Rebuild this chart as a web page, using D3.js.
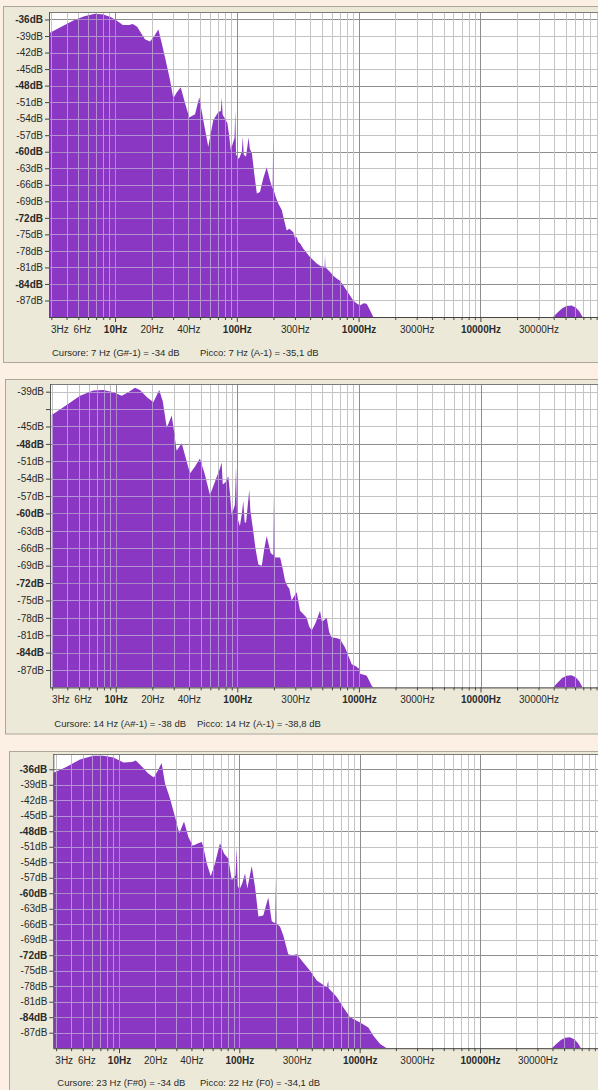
<!DOCTYPE html>
<html><head><meta charset="utf-8">
<script src="https://cdn.jsdelivr.net/npm/d3@7"></script>
<style>
body{margin:0;background:#fcefe4;overflow:hidden;}
svg{display:block;}
text{font-family:"Liberation Sans",Arial,sans-serif;}
</style>
</head><body>
<svg id="c" width="598" height="1090"></svg>
<script>
// ---- tick labels ----
const freqTickValues = [3, 6, 10, 20, 40, 100, 300, 1000, 3000, 10000, 30000];
const freqTickLabels = ["3Hz","6Hz","10Hz","20Hz","40Hz","100Hz","300Hz","1000Hz","3000Hz","10000Hz","30000Hz"];
const boldFreqs = [10, 100, 1000, 10000];
const dbLabels1 = [-36,-39,-42,-45,-48,-51,-54,-57,-60,-63,-66,-69,-72,-75,-78,-81,-84,-87];
const dbLabels2 = [-39,-45,-48,-51,-54,-57,-60,-63,-66,-69,-72,-75,-78,-81,-84,-87];
const dbLabels3 = [-36,-39,-42,-45,-48,-51,-54,-57,-60,-63,-66,-69,-72,-75,-78,-81,-84,-87];

// ---- spectrum 1 ----
const spec1Hz = [2.87,3.5,4.55,5.6,6.85,8.0,9.3,10.3,11.6,13.0,14.0,15.2,16.5,17.6,19.4,20.9,22.7,24.2,25.7,28.3,30.1,32.2,34.6,37.6,40.7,45.4,49.2,53.1,58.3,64.1,70.5,74.0,75.2,76.5,78.5,83.6,86.5,89.1,95.8,97.2,98.6,104,110,112,114,119,125,128,133,140,146,155,165,176,187,197,199,201,210,219,234,245,257,270,291,300,310,320,330,352,375,399,425,453,490,526,530,534,547,580,620,660,703,750,798,850,904,960,1026,1100,1164,1230,1281,1321,1335,
  39500,43000,47000,51000,56000,61000,65000,69000,71000,200000];
const spec1Db = [-38.5,-37.5,-36.2,-35.4,-34.95,-35.1,-35.6,-36.2,-37.0,-37.0,-36.8,-37.3,-38.6,-39.6,-40.0,-39.1,-37.8,-40.3,-42.8,-47.0,-50.3,-49.2,-48.3,-51.2,-53.8,-53.2,-50.1,-54.3,-59.1,-54.3,-52.8,-52.6,-50.1,-53.3,-53.7,-54.8,-57.0,-59.7,-57.5,-52.5,-60.5,-61.3,-60.0,-57.3,-60.5,-60.9,-57.4,-59.5,-60.3,-64.5,-67.6,-67.3,-64.8,-62.8,-65.2,-66.8,-57.3,-67.0,-68.4,-69.4,-70.6,-72.5,-74.3,-74.0,-74.6,-75.6,-75.5,-76.4,-76.6,-77.6,-78.4,-79.1,-79.7,-80.3,-80.8,-80.9,-78.8,-81.0,-81.2,-81.8,-82.5,-83.0,-83.4,-84.3,-85.2,-86.1,-87.0,-87.5,-87.9,-87.5,-87.6,-88.6,-89.4,-90.0,-95,
  -90.5,-89.2,-88.4,-88.0,-87.9,-88.3,-89.0,-90.0,-91,-95];

// ---- spectrum 2 ----
const spec2Hz = [2.98,3.95,5.09,6.54,7.91,9.56,11.2,12.7,14.4,15.8,18.0,20.4,22.8,24.4,26.3,28.9,30.2,31.7,34.9,37.1,40.8,44.9,49.3,54.3,59.6,65.6,72.1,74.4,75.9,80,84.3,87,89.9,95.5,97.6,99.5,105,109,112,115,118,125.5,128,134,141,149,159,167,174.5,188,198,200,202,208,225,236,247,258,268,280,295,308,328,350,372,390,409,440,465,479,495,510,544,570,598,650,699,769,820,873,950,1000,1008,1016,1035,1100,1159,1220,1274,1313,1330,
  39500,43000,47000,51000,56000,61000,65000,69000,71000,200000];
const spec2Db = [-43.0,-41.3,-39.7,-38.8,-38.7,-39.1,-39.7,-39.1,-38.3,-38.7,-39.9,-40.8,-38.7,-40.7,-45.2,-43.1,-45.9,-49.2,-47.9,-49.9,-53.1,-51.9,-50.5,-53.4,-56.8,-54.5,-52.2,-51.2,-55.0,-54.6,-53.6,-56.5,-60.3,-58.5,-51.9,-60.5,-62.2,-60.0,-57.9,-61.5,-61.6,-55.9,-59.5,-62.4,-66.0,-68.8,-69.0,-66.0,-63.9,-66.8,-67.2,-56.6,-67.5,-67.6,-67.6,-69.5,-71.6,-72.5,-73.0,-75.0,-74.2,-73.6,-76.8,-77.4,-78.0,-79.5,-80.2,-78.9,-77.5,-76.8,-78.6,-78.5,-78.0,-80.5,-81.4,-81.5,-81.7,-83.1,-84.6,-86.0,-86.4,-86.8,-84.8,-87.5,-87.7,-87.8,-88.0,-88.9,-89.7,-90.0,-95,
  -90.5,-89.2,-88.4,-88.0,-87.9,-88.3,-89.0,-90.0,-91,-95];

// ---- spectrum 3 ----
const spec3Hz = [2.84,3.68,4.74,6.11,7.41,8.97,10.9,12.8,13.8,15.4,17.5,19.5,21.2,22.6,24.1,26.5,29.2,31.7,34.7,37.7,41.0,45.6,48.7,50.2,53.6,57.9,62.8,69.1,74.6,81.0,86.5,93,95.1,97,100,106,111.5,116.5,126.8,135,144,158,174,186,199,200.7,202.5,207,218,232,255,275,300,340,387,440,533,548,552,645,732,832,1008,1181,1300,1478,1680,1700,
  39500,43000,47000,51000,56000,61000,65000,69000,71000,200000];
const spec3Db = [-36.7,-35.5,-34.1,-33.4,-33.4,-33.7,-34.7,-34.6,-34.3,-35.4,-36.8,-37.6,-36.1,-34.8,-38.7,-41.6,-45.2,-48.4,-46.1,-49.1,-50.8,-50.3,-50.1,-51.0,-54.2,-56.7,-54.2,-50.3,-52.3,-53.3,-57.5,-56.5,-51.0,-58.5,-59.3,-58.0,-56.2,-59.1,-54.7,-58.8,-64.5,-64.3,-60.8,-65.4,-65.8,-56.9,-65.8,-66.0,-66.5,-68.2,-71.8,-72.0,-71.8,-73.4,-75.0,-76.9,-78.2,-76.9,-78.4,-80.1,-82.1,-84.0,-85.0,-86.0,-87.6,-89.2,-90.0,-95,
  -90.5,-89.2,-88.4,-88.0,-87.9,-88.3,-89.0,-90.0,-91,-95];

const cursorTexts = ["Cursore: 7 Hz (G#-1) = -34 dB", "Cursore: 14 Hz (A#-1) = -38 dB", "Cursore: 23 Hz (F#0) = -34 dB"];
const peakTexts = ["Picco: 7 Hz (A-1) = -35,1 dB", "Picco: 14 Hz (A-1) = -38,8 dB", "Picco: 22 Hz (F0) = -34,1 dB"];

const panels = [
  {id:1, hz:spec1Hz, db:spec1Db, labels:dbLabels1, fx:3.5, fy:6.5, fh:356, left:49, top:12, bottom:317, xr:[115,480.4], topDb:-34.64, cx:52, px:200, cy:356},
  {id:2, hz:spec2Hz, db:spec2Db, labels:dbLabels2, fx:5.5, fy:379.5, fh:354.5, left:50, top:384, bottom:687.4, xr:[115.7,480.5], topDb:-37.67, cx:54.3, px:197, cy:727},
  {id:3, hz:spec3Hz, db:spec3Db, labels:dbLabels3, fx:9.5, fy:751.5, fh:400, left:53.3, top:754, bottom:1048.2, xr:[119,480], topDb:-33.04, cx:57.3, px:200, cy:1086}
];

const svg = d3.select("#c");
const RIGHT = 600;

panels.forEach((p, i) => {
  const g = svg.append("g");
  g.append("rect").attr("x", p.fx).attr("y", p.fy).attr("width", 700).attr("height", p.fh)
    .attr("fill", "#ece9d8").attr("stroke", "#aca899");

  const xs = d3.scaleLog().domain([10, 10000]).range(p.xr);
  const ys = d3.scaleLinear().domain([-90, p.topDb]).range([p.bottom, p.top]);

  const clipId = "plot" + p.id;
  svg.append("clipPath").attr("id", clipId).append("rect")
    .attr("x", p.left).attr("y", p.top).attr("width", RIGHT - p.left).attr("height", p.bottom - p.top);
  const plot = g.append("g").attr("clip-path", `url(#${clipId})`);
  plot.append("rect").attr("x", p.left).attr("y", p.top).attr("width", RIGHT - p.left)
    .attr("height", p.bottom - p.top).attr("fill", "#ffffff");

  const vGrid = [];
  for (let d = 0; d <= 5; d++) for (let k = 1; k <= 9; k++) {
    const f = k * Math.pow(10, d);
    const x = xs(f);
    if (x > p.left + 0.5 && x < RIGHT) vGrid.push({f, major: k === 1});
  }
  const hGrid = d3.range(-87, p.topDb, 3);

  function drawGrid(sel, minorC, majorC) {
    sel.selectAll(null).data(hGrid).join("line")
      .attr("x1", p.left).attr("x2", RIGHT)
      .attr("y1", d => Math.round(ys(d)) + 0.5).attr("y2", d => Math.round(ys(d)) + 0.5)
      .attr("stroke", d => d % 12 === 0 ? majorC : minorC).attr("stroke-width", 1);
    sel.selectAll(null).data(vGrid).join("line")
      .attr("y1", p.top).attr("y2", p.bottom)
      .attr("x1", d => Math.round(xs(d.f)) + 0.5).attr("x2", d => Math.round(xs(d.f)) + 0.5)
      .attr("stroke", d => d.major ? majorC : minorC).attr("stroke-width", 1);
  }
  drawGrid(plot.append("g"), "#c4c4c4", "#8e8e8e");

  const data = p.hz.map((f, j) => ({f, db: p.db[j]}));
  const area = d3.area().x(d => xs(d.f)).y0(p.bottom).y1(d => ys(Math.max(d.db, -90)));
  const dPath = area(data);
  plot.append("path").attr("d", dPath).attr("fill", "#8a37c4");
  const aId = "area" + p.id;
  svg.append("clipPath").attr("id", aId).append("path").attr("d", dPath);
  drawGrid(plot.append("g").attr("clip-path", `url(#${aId})`), "#b391d3", "#a98ac6");

  // frame lines
  g.append("line").attr("x1", p.left).attr("x2", RIGHT).attr("y1", p.top + 0.5).attr("y2", p.top + 0.5).attr("stroke", "#7a7a7a");
  g.append("line").attr("x1", p.left + 0.5).attr("x2", p.left + 0.5).attr("y1", p.top).attr("y2", p.bottom).attr("stroke", "#555");
  g.append("line").attr("x1", p.left).attr("x2", RIGHT).attr("y1", p.bottom + 0.5).attr("y2", p.bottom + 0.5).attr("stroke", "#444");

  // y axis
  const yAxis = d3.axisLeft(ys).tickValues(hGrid)
    .tickFormat(d => p.labels.includes(d) ? d + "dB" : "").tickSize(4).tickPadding(2);
  const ya = g.append("g").attr("transform", `translate(${p.left},0)`).call(yAxis);
  ya.select(".domain").remove();
  ya.selectAll(".tick line").attr("stroke", "#444");
  ya.selectAll(".tick text").attr("font-size", 10).attr("fill", "#2a2a2a")
    .attr("font-family", '"Liberation Sans",Arial,sans-serif')
    .attr("font-weight", d => d % 12 === 0 ? "bold" : "normal");

  // x axis
  const xAxis = d3.axisBottom(xs).tickValues(vGrid.map(v => v.f))
    .tickFormat(f => { const k = freqTickValues.indexOf(f); return k >= 0 ? freqTickLabels[k] : ""; })
    .tickSize(3);
  const xa = g.append("g").attr("transform", `translate(0,${p.bottom})`).call(xAxis);
  xa.select(".domain").remove();
  xa.selectAll(".tick line").attr("stroke", "#444").attr("y2", d => (Math.log10(d) % 1 === 0) ? 5 : 3);
  xa.selectAll(".tick text").attr("font-size", 10).attr("fill", "#2a2a2a").attr("y", 8.4)
    .attr("font-family", '"Liberation Sans",Arial,sans-serif')
    .attr("font-weight", d => boldFreqs.includes(d) ? "bold" : "normal")
    .each(function(d) {
      const t = d3.select(this);
      if (!t.text()) return;
      const w = this.getComputedTextLength();
      const x = xs(d);
      let dx = 0;
      if (x - w / 2 < p.left + 1.5) dx = p.left + 1.5 - (x - w / 2);
      if (d === 6) dx = -6;
      t.attr("x", dx);
    });

  // status line
  g.append("text").attr("x", p.cx).attr("y", p.cy).attr("font-size", 9.5).attr("fill", "#2a2a2a").text(cursorTexts[i]);
  g.append("text").attr("x", p.px).attr("y", p.cy).attr("font-size", 9.5).attr("fill", "#2a2a2a").text(peakTexts[i]);
});
</script>
</body></html>
